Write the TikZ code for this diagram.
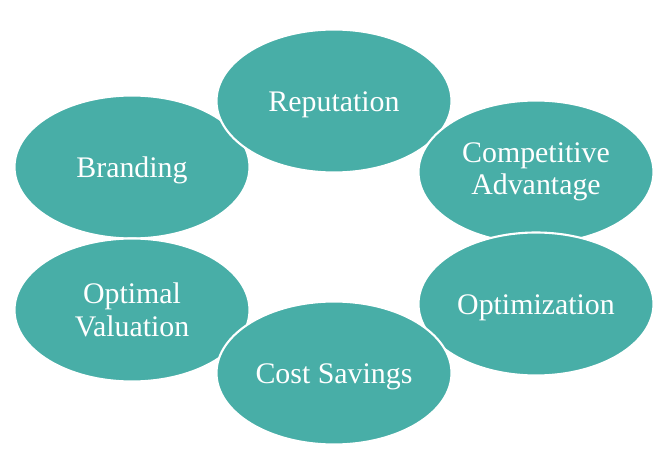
\documentclass[tikz,border=0pt]{standalone}
\usepackage{fontspec}
\setmainfont{Liberation Serif}
\usepackage{tikz}
\usetikzlibrary{shapes.geometric}
\definecolor{cycleteal}{RGB}{72,174,167}
\tikzset{
  bubble/.style={ellipse, fill=cycleteal, draw=white, line width=1.2pt,
                 minimum width=4.70cm, minimum height=2.86cm, inner sep=0pt,
                 align=center, text=white, font=\fontsize{17}{18.5}\selectfont},
  oneline/.style={bubble, text height=12.4pt, text depth=0pt}
}
\begin{document}
\begin{tikzpicture}
\useasboundingbox (0,0) rectangle (13.24,9.4);
% Cycle (later nodes lie on top)
\node[oneline] (brand)  at (2.64,6.06)  {Branding};
\node[oneline] (rep)    at (6.68,7.38)  {Reputation};
\node[bubble]  (comp)   at (10.72,5.96) {Competitive\\Advantage};
\node[oneline] (optim)  at (10.72,3.32) {Optimization};
\node[bubble]  (optval) at (2.64,3.20)  {Optimal\\Valuation};
\node[oneline] (cost)   at (6.68,1.94)  {Cost Savings};
\end{tikzpicture}
\end{document}
